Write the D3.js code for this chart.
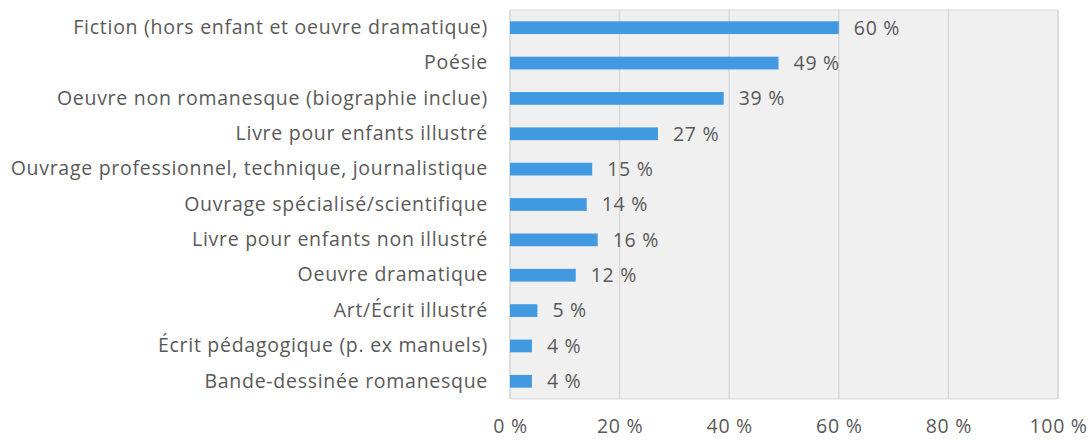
<!DOCTYPE html>
<html>
<head>
<meta charset="utf-8">
<script src="https://cdn.jsdelivr.net/npm/d3@7"></script>
<style>
  body { margin: 0; background: #fff; }
  text { font-family: "Open Sans", "Liberation Sans", sans-serif; fill: #595959; }
</style>
</head>
<body>
<div id="chart"></div>
<script>
// Categories, top to bottom
const categories = [
  "Fiction (hors enfant et oeuvre dramatique)",
  "Poésie",
  "Oeuvre non romanesque (biographie inclue)",
  "Livre pour enfants illustré",
  "Ouvrage professionnel, technique, journalistique",
  "Ouvrage spécialisé/scientifique",
  "Livre pour enfants non illustré",
  "Oeuvre dramatique",
  "Art/Écrit illustré",
  "Écrit pédagogique (p. ex manuels)",
  "Bande-dessinée romanesque"
];
const values = [60, 49, 39, 27, 15, 14, 16, 12, 5, 4, 4];
const ticks = [0, 20, 40, 60, 80, 100];

const W = 1089, H = 440;
const margin = { top: 10, right: 31, bottom: 41, left: 510 };
const width = W - margin.left - margin.right;
const height = H - margin.top - margin.bottom;
const fontSize = "19.5px";
const spacing = "0.72px";

const svg = d3.select("#chart").append("svg")
  .attr("width", W)
  .attr("height", H);

const g = svg.append("g")
  .attr("transform", "translate(" + margin.left + "," + margin.top + ")");

const x = d3.scaleLinear().domain([0, 100]).range([0, width]);
const y = d3.scaleBand().domain(categories).range([0, height]).paddingInner(0.64).paddingOuter(0.32);

// Plot background
g.append("rect")
  .attr("width", width)
  .attr("height", height)
  .attr("fill", "#f0f0f0")
  .attr("stroke", "#d9d9d9");

// Gridlines
g.selectAll(".grid")
  .data(ticks)
  .enter().append("line")
  .attr("x1", d => x(d))
  .attr("x2", d => x(d))
  .attr("y1", 0)
  .attr("y2", height)
  .attr("stroke", "#d9d9d9")
  .attr("stroke-width", 1.5);

// Bars
g.selectAll(".bar")
  .data(values)
  .enter().append("rect")
  .attr("x", x(0))
  .attr("y", (d, i) => y(categories[i]))
  .attr("width", d => x(d) - x(0))
  .attr("height", y.bandwidth())
  .attr("fill", "#4199e1");

// Value labels
g.selectAll(".val")
  .data(values)
  .enter().append("text")
  .attr("x", d => x(d) + 15)
  .attr("y", (d, i) => y(categories[i]) + y.bandwidth() / 2)
  .attr("dy", "0.35em")
  .style("font-size", fontSize)
  .style("letter-spacing", spacing)
  .text(d => d + " %");

// Category labels
const yAxis = g.append("g")
  .call(d3.axisLeft(y).tickSize(0).tickPadding(22));
yAxis.select(".domain").remove();
yAxis.selectAll("text")
  .style("font-size", fontSize)
  .style("letter-spacing", spacing)
  .attr("fill", null)
  .style("font-family", null);

// X axis tick labels
const xAxis = g.append("g")
  .attr("transform", "translate(0," + height + ")")
  .call(d3.axisBottom(x).tickValues(ticks).tickSize(0).tickPadding(20).tickFormat(d => d + " %"));
xAxis.select(".domain").remove();
xAxis.selectAll("text")
  .style("font-size", fontSize)
  .style("letter-spacing", spacing)
  .attr("fill", null)
  .style("font-family", null);
</script>
</body>
</html>
